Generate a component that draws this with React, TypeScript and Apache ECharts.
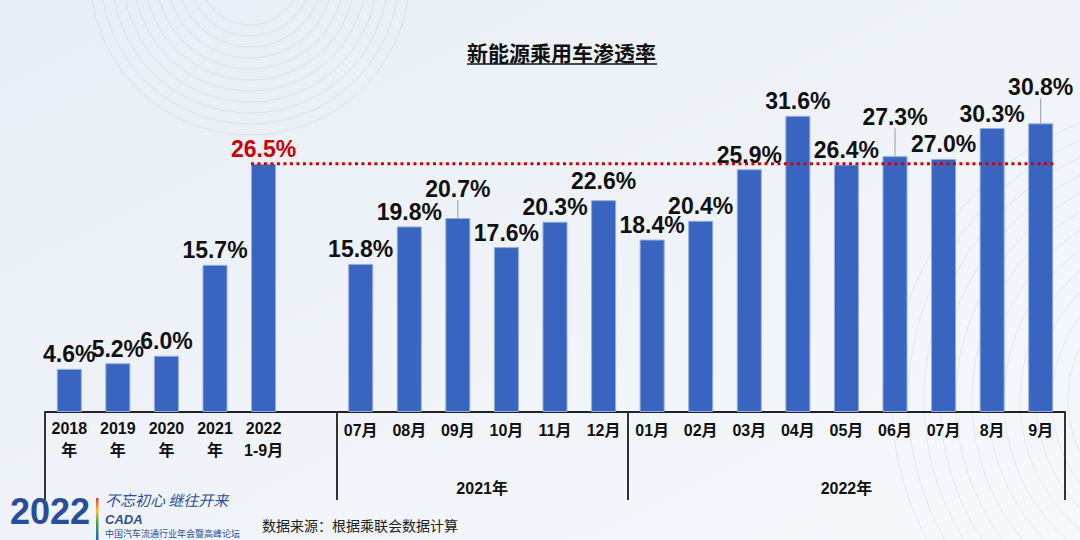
import React, { useEffect, useRef } from "react";
import * as echarts from "echarts";

const categories = [
  "2018\n年", "2019\n年", "2020\n年", "2021\n年", "2022\n1-9月", "",
  "07月", "08月", "09月", "10月", "11月", "12月",
  "01月", "02月", "03月", "04月", "05月", "06月", "07月", "8月", "9月",
];
const values: (number | string)[] = [
  4.6, 5.2, 6.0, 15.7, 26.5, "-",
  15.8, 19.8, 20.7, 17.6, 20.3, 22.6,
  18.4, 20.4, 25.9, 31.6, 26.4, 27.3, 27.0, 30.3, 30.8,
];
const highlightIndex = 4;
const groupBoundaries = [0, 6, 12];
const groupLabelValues = [9, 16.5];
const groupLabels = ["2021年", "2022年"];
const refValue = 26.5;
const refLineRange = [4.24, 20.76];
const title = "新能源乘用车渗透率";
const source = "数据来源：根据乘联会数据计算";

const FONT = "'Liberation Sans', Arial, 'Noto Sans CJK SC', sans-serif";
const CJK = "'Noto Sans CJK SC', sans-serif";

export default function App() {
  const ref = useRef<HTMLDivElement>(null);
  useEffect(() => {
    document.body.style.margin = "0";
    const chart = echarts.init(ref.current!, undefined, { renderer: "svg" });
    const shift: Record<number, number> = { 8: -15, 11: -5, 17: -25, 20: -22 };
    const leader = new Set([8, 17, 20]);

    const circlesTL: any[] = [];
    for (let r = 50; r <= 160; r += 11) {
      circlesTL.push({
        type: "circle", z: -5, silent: true,
        shape: { cx: 250, cy: -25, r },
        style: { fill: "none", stroke: "rgba(185,198,215,0.35)", lineWidth: 1 },
      });
    }
    const circlesBR: any[] = [];
    for (let r = 90; r <= 300; r += 16) {
      circlesBR.push({
        type: "circle", z: -5, silent: true,
        shape: { cx: 1190, cy: 400, r },
        style: { fill: "none", stroke: "rgba(190,200,215,0.3)", lineWidth: 1 },
      });
    }

    chart.setOption({
      animation: false,
      backgroundColor: {
        type: "linear", x: 0, y: 0, x2: 1, y2: 1,
        colorStops: [
          { offset: 0, color: "#e8eef6" },
          { offset: 1, color: "#f6f8fb" },
        ],
      },
      grid: { left: 45, right: 15, top: 84, bottom: 128 },
      xAxis: [
        {
          type: "category",
          data: categories,
          boundaryGap: true,
          axisLine: { lineStyle: { color: "#222", width: 2 } },
          axisTick: {
            show: true,
            interval: (i: number) => groupBoundaries.indexOf(i) >= 0,
            length: 88,
            lineStyle: { color: "#333", width: 2 },
          },
          axisLabel: {
            interval: 0,
            margin: 5,
            color: "#111",
            fontFamily: FONT,
            fontWeight: "bold",
            fontSize: 16,
            lineHeight: 22,
            formatter: (v: string, i: number) => (i < 5 ? `{y|${v}}` : `{m|${v}}`),
            rich: {
              y: { fontSize: 16, fontWeight: "bold", lineHeight: 22, fontFamily: FONT, color: "#111" },
              m: { fontSize: 16, fontWeight: "bold", lineHeight: 22, fontFamily: FONT, color: "#111", padding: [5, 0, 0, 0] },
            },
          },
        },
        {
          type: "value",
          min: 0,
          max: categories.length,
          position: "bottom",
          axisLine: { show: false },
          axisTick: { show: false },
          splitLine: { show: false },
          axisLabel: {
            customValues: groupLabelValues,
            formatter: (v: number) => groupLabels[groupLabelValues.indexOf(v)] ?? "",
            margin: 65,
            color: "#111",
            fontFamily: FONT,
            fontWeight: "bold",
            fontSize: 16,
            lineHeight: 22,
          },
        },
      ],
      yAxis: { type: "value", min: 0, max: 35, show: false },
      series: [
        {
          type: "bar",
          xAxisIndex: 0,
          barWidth: 25,
          data: values.map((v, i) =>
            i === highlightIndex
              ? { value: v, label: { color: "#cc0000" } }
              : leader.has(i)
              ? { value: v, labelLine: { show: true } }
              : v
          ),
          itemStyle: { color: "#3965c1", borderColor: "#93ace0", borderWidth: 1 },
          label: {
            show: true,
            position: "top",
            distance: 3,
            color: "#111",
            fontFamily: FONT,
            fontWeight: "bold",
            fontSize: 23,
            formatter: (p: any) => Number(p.value).toFixed(1) + "%",
          },
          labelLayout: (p: any) => (shift[p.dataIndex] ? { dy: shift[p.dataIndex] } : {}),
          labelLine: { show: false, lineStyle: { color: "#9a9a9a", width: 1 } },
        },
        {
          type: "line",
          xAxisIndex: 1,
          data: refLineRange.map((x) => [x, refValue]),
          symbol: "none",
          z: 5,
          silent: true,
          lineStyle: { color: "#d40000", width: 3, type: [3, 3.5] },
        },
      ],
      graphic: [
        ...circlesTL,
        ...circlesBR,
        {
          type: "text", left: 467, top: 41,
          style: { text: title, fill: "#111", font: `bold 21px ${CJK}` },
        },
        {
          type: "line",
          shape: { x1: 467, y1: 64, x2: 657, y2: 64 },
          style: { stroke: "#111", lineWidth: 1.5 },
        },
        {
          type: "text", left: 10, top: 493,
          style: { text: "2022", fill: "#2a4c9c", font: `bold 36px 'Liberation Sans', Arial, sans-serif` },
        },
        {
          type: "rect",
          shape: { x: 96, y: 498, width: 2.5, height: 42 },
          style: {
            fill: {
              type: "linear", x: 0, y: 0, x2: 0, y2: 1,
              colorStops: [
                { offset: 0, color: "#e53935" },
                { offset: 0.3, color: "#fbc02d" },
                { offset: 0.6, color: "#43a047" },
                { offset: 1, color: "#1e63c4" },
              ],
            },
          },
        },
        {
          type: "text", left: 105, top: 492,
          style: { text: "不忘初心 继往开来", fill: "#2d4f9e", font: `italic 15px ${CJK}` },
        },
        {
          type: "text", left: 105, top: 513,
          style: { text: "CADA", fill: "#2d4f9e", font: `italic bold 13px 'Liberation Sans', Arial, sans-serif` },
        },
        {
          type: "text", left: 105, top: 529,
          style: { text: "中国汽车流通行业年会暨高峰论坛", fill: "#2d4f9e", font: `9px ${CJK}` },
        },
        {
          type: "text", left: 262, top: 518,
          style: { text: source, fill: "#222", font: `14px ${CJK}` },
        },
      ],
    });
    return () => chart.dispose();
  }, []);
  return (
    <div
      ref={ref}
      style={{ position: "absolute", left: 0, top: 0, width: 1080, height: 540 }}
    />
  );
}
